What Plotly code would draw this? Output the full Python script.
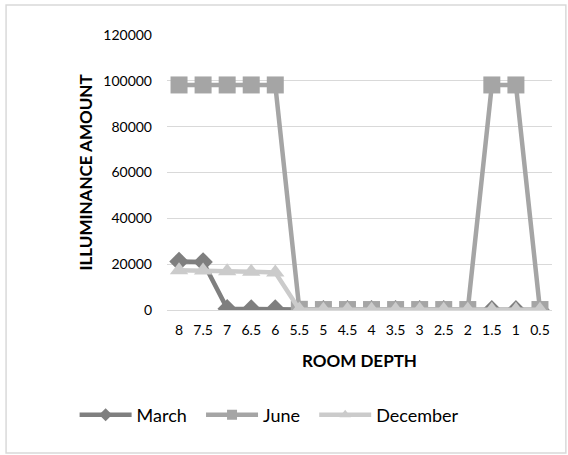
import plotly.graph_objects as go

# Room depth positions (m), listed from the back of the room to the window
depth = ["8", "7.5", "7", "6.5", "6", "5.5", "5", "4.5", "4", "3.5", "3", "2.5", "2", "1.5", "1", "0.5"]

march = [21200, 21000, 600, 400, 400, 200, 150, 150, 100, 100, 100, 100, 100, 100, 100, 100]
june = [98200, 98200, 98200, 98200, 98200, 300, 200, 200, 200, 200, 200, 200, 200, 98200, 98200, 200]
december = [17300, 17200, 16900, 16700, 16400, 200, 150, 150, 100, 100, 100, 100, 100, 100, 100, 100]

FONT = "Lato"
GAP = "\u00a0\u00a0"  # extra spacing between legend entries

series = [
    ("March", march, "#7f7f7f", "diamond", 15, 10, GAP),
    ("June", june, "#a5a5a5", "square", 17, 10, GAP),
    ("December", december, "#cbcbcb", "triangle-up", 16, 10, ""),
]

fig = go.Figure()

for name, values, color, symbol, size, legend_size, pad in series:
    fig.add_trace(go.Scatter(
        x=depth, y=values, name=name, mode="lines+markers", showlegend=False,
        line=dict(color=color, width=4.5),
        marker=dict(symbol=symbol, size=size, color=color),
    ))
    # legend entry with a smaller marker
    fig.add_trace(go.Scatter(
        x=[None], y=[None], name=name + pad, mode="lines+markers", hoverinfo="skip",
        line=dict(color=color, width=4.5),
        marker=dict(symbol=symbol, size=legend_size, color=color),
    ))

# Light frame around the whole chart area
fig.add_shape(type="rect", xref="paper", yref="paper",
              x0=-0.418, x1=1.036, y0=-0.52, y1=1.109,
              line=dict(color="#d9d9d9", width=1.5), layer="below")

fig.update_layout(
    width=568, height=455,
    margin=dict(l=167, r=16, t=35, b=145),
    paper_bgcolor="white", plot_bgcolor="white",
    font=dict(family=FONT, color="#000000", size=14),
    showlegend=True,
    legend=dict(orientation="h", x=-0.24, xanchor="left", y=-0.315, yanchor="top",
                font=dict(size=18, color="#000000", family=FONT),
                itemwidth=52, traceorder="normal"),
)

fig.update_xaxes(
    type="category", range=[-0.5, 15.5], showgrid=False, showline=False, ticks="",
    ticklabelstandoff=10,
    tickfont=dict(size=14, color="#000000"),
    title=dict(text="<b>ROOM DEPTH</b>", font=dict(size=17, color="#000000"), standoff=18),
)
fig.update_yaxes(
    range=[0, 120000], dtick=20000, showgrid=True, gridcolor="#d9d9d9", gridwidth=1.2,
    zeroline=True, zerolinecolor="#d9d9d9", zerolinewidth=1.2,
    showline=False, ticks="", tickformat="d", ticklabelstandoff=14,
    tickfont=dict(size=14, color="#000000"),
    title=dict(text="<b>ILLUMINANCE AMOUNT</b>", font=dict(size=17, color="#000000"), standoff=6),
)

fig.write_html("out.html")
